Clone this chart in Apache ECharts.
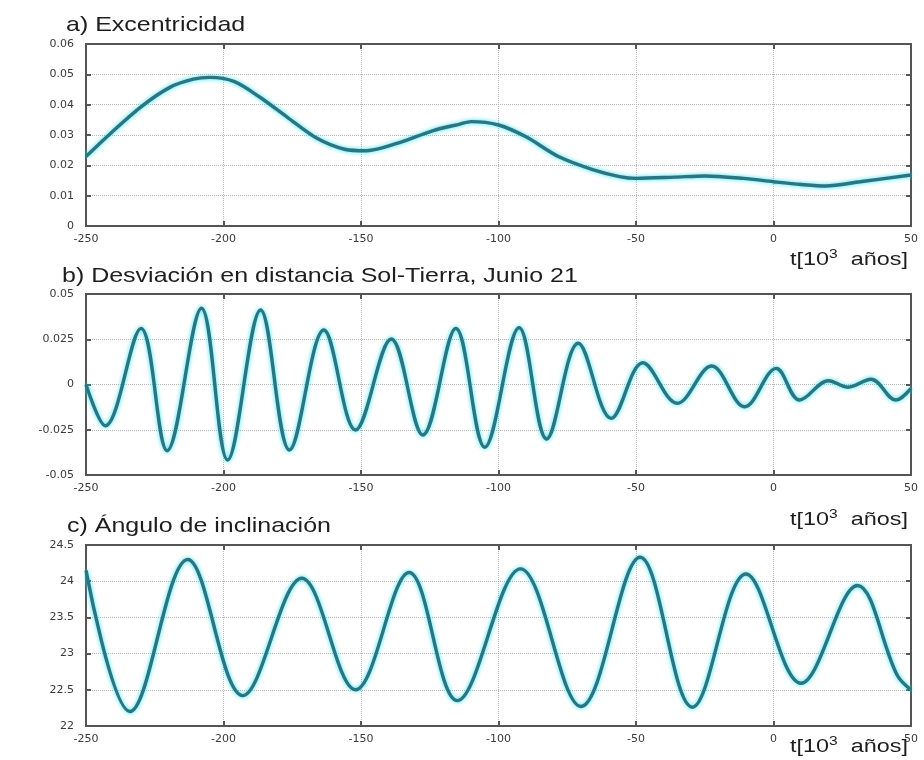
<!DOCTYPE html>
<html>
<head>
<meta charset="utf-8">
<script src="https://cdn.jsdelivr.net/npm/echarts@6/dist/echarts.min.js"></script>
<style>
  html, body { margin: 0; padding: 0; background: #ffffff; }
  #chart { width: 924px; height: 760px; }
</style>
</head>
<body>
<div id="chart"></div>
<script>
// Time axis, thousands of years relative to present
const timeMin = -250;
const timeMax = 50;
const timeStep = 50;

// a) Eccentricity of the Earth's orbit
const eccTime = [-250, -241, -230, -219.5, -211, -205, -196, -187, -177, -166, -156, -148, -136, -124, -114, -110, -100, -90, -78, -65.5, -56, -50, -36, -25, -11, 0, 10, 19, 31.5, 50];
const eccValue = [0.0229, 0.0306, 0.0393, 0.0457, 0.0484, 0.0490, 0.0476, 0.0426, 0.0360, 0.0289, 0.0253, 0.0248, 0.0275, 0.0314, 0.0336, 0.0344, 0.0333, 0.0294, 0.0228, 0.0185, 0.0163, 0.0157, 0.0161, 0.0165, 0.0157, 0.0146, 0.0137, 0.0132, 0.0146, 0.0168];

// b) Sun-Earth distance deviation on June 21 (precession)
const distTime = [-250, -243, -230, -220.5, -208, -198.5, -186.5, -176, -163.5, -152, -139, -127.5, -115.5, -105, -92.5, -82.5, -71, -59, -47.5, -35, -22.5, -10.5, 1, 9.5, 20, 27, 35.5, 44.5, 50];
const distValue = [0, -0.0228, 0.0310, -0.0366, 0.0421, -0.0417, 0.0412, -0.0362, 0.0301, -0.0251, 0.0251, -0.0279, 0.0310, -0.0347, 0.0314, -0.0301, 0.0228, -0.0187, 0.0120, -0.0104, 0.0102, -0.0123, 0.0089, -0.0086, 0.0021, -0.0015, 0.0029, -0.0086, -0.0021];

// c) Obliquity (tilt angle, degrees)
const tiltTime = [-250, -234, -213, -193, -171.5, -152, -132.5, -115, -92, -70, -48.5, -29.5, -10, 10, 30.5, 45, 50];
const tiltValue = [24.15, 22.2, 24.3, 22.42, 24.04, 22.5, 24.12, 22.35, 24.17, 22.27, 24.33, 22.26, 24.10, 22.59, 23.94, 22.70, 22.5];

// y-axis ranges for each panel
const yRanges = [
  { min: 0, max: 0.06, interval: 0.01 },
  { min: -0.05, max: 0.05, interval: 0.025 },
  { min: 22, max: 24.5, interval: 0.5 }
];

const panelTitles = [
  'a) Excentricidad',
  'b) Desviación en distancia Sol-Tierra, Junio 21',
  'c) Ángulo de inclinación'
];

const panels = [
  { t: eccTime, v: eccValue, smooth: 0.3 },
  { t: distTime, v: distValue, smooth: 0.36 },
  { t: tiltTime, v: tiltValue, smooth: 0.36 }
];

const gridBoxes = [
  { left: 86, top: 44, width: 825, height: 182 },
  { left: 86, top: 294, width: 825, height: 181 },
  { left: 86, top: 545, width: 825, height: 181 }
];

const frameColor = '#555555';
const labelStyle = { fontSize: 11, color: '#3a3a3a', fontFamily: 'DejaVu Sans' };

const grid = [], xAxis = [], yAxis = [], series = [], graphic = [];

gridBoxes.forEach((box, i) => {
  grid.push(Object.assign({ show: true, borderColor: frameColor, borderWidth: 2, containLabel: false }, box));

  // bottom time axis with labels
  xAxis.push({
    type: 'value', gridIndex: i, min: timeMin, max: timeMax, interval: timeStep,
    axisLine: { show: true, onZero: false, lineStyle: { color: frameColor, width: 2 } },
    axisTick: { show: true, inside: true, length: 5, lineStyle: { color: frameColor, width: 2 } },
    axisLabel: Object.assign({ margin: 8 }, labelStyle),
    splitLine: { show: true, lineStyle: { type: 'dotted', color: '#b8b8b8', width: 1 } }
  });
  // top frame ticks
  xAxis.push({
    type: 'value', gridIndex: i, position: 'top', min: timeMin, max: timeMax, interval: timeStep,
    axisLine: { show: true, onZero: false, lineStyle: { color: frameColor, width: 2 } },
    axisTick: { show: true, inside: true, length: 5, lineStyle: { color: frameColor, width: 2 } },
    axisLabel: { show: false },
    splitLine: { show: false }
  });

  const r = yRanges[i];
  yAxis.push({
    type: 'value', gridIndex: i, min: r.min, max: r.max, interval: r.interval,
    axisLine: { show: true, onZero: false, lineStyle: { color: frameColor, width: 2 } },
    axisTick: { show: true, inside: true, length: 5, lineStyle: { color: frameColor, width: 2 } },
    axisLabel: Object.assign({ margin: 12 }, labelStyle),
    splitLine: { show: true, lineStyle: { type: 'dotted', color: '#b8b8b8', width: 1 } }
  });
  yAxis.push({
    type: 'value', gridIndex: i, position: 'right', min: r.min, max: r.max, interval: r.interval,
    axisLine: { show: true, onZero: false, lineStyle: { color: frameColor, width: 2 } },
    axisTick: { show: true, inside: true, length: 5, lineStyle: { color: frameColor, width: 2 } },
    axisLabel: { show: false },
    splitLine: { show: false }
  });

  const p = panels[i];
  series.push({
    type: 'line',
    xAxisIndex: 2 * i,
    yAxisIndex: 2 * i,
    data: p.t.map((t, k) => [t, p.v[k]]),
    showSymbol: false,
    smooth: p.smooth,
    lineStyle: { color: '#2a7582', width: 3.4, shadowColor: 'rgba(40,225,240,0.95)', shadowBlur: 4 },
    z: 5
  });

  // panel heading
  graphic.push({
    type: 'text',
    x: [66, 62, 67][i],
    y: [25, 276, 526][i],
    scaleX: 1.19,
    style: {
      text: panelTitles[i],
      font: '21px "Liberation Sans", Arial, sans-serif',
      fill: '#1e1e1e',
      verticalAlign: 'middle',
      align: 'left'
    }
  });

  // time unit label
  graphic.push({
    type: 'text',
    x: 908,
    y: [260, 520, 747][i],
    scaleX: 1.3,
    style: {
      text: 't[10{s|3}  años]',
      font: '18px "Liberation Sans", Arial, sans-serif',
      fill: '#1e1e1e',
      align: 'right',
      verticalAlign: 'middle',
      rich: {
        s: { font: '12px "Liberation Sans", Arial, sans-serif', fill: '#1e1e1e', verticalAlign: 'top', padding: [0, 0, 10, 0] }
      }
    }
  });
});

const chart = echarts.init(document.getElementById('chart'), null, { renderer: 'canvas' });
chart.setOption({
  animation: false,
  backgroundColor: '#ffffff',
  grid, xAxis, yAxis, series, graphic
});
</script>
</body>
</html>
